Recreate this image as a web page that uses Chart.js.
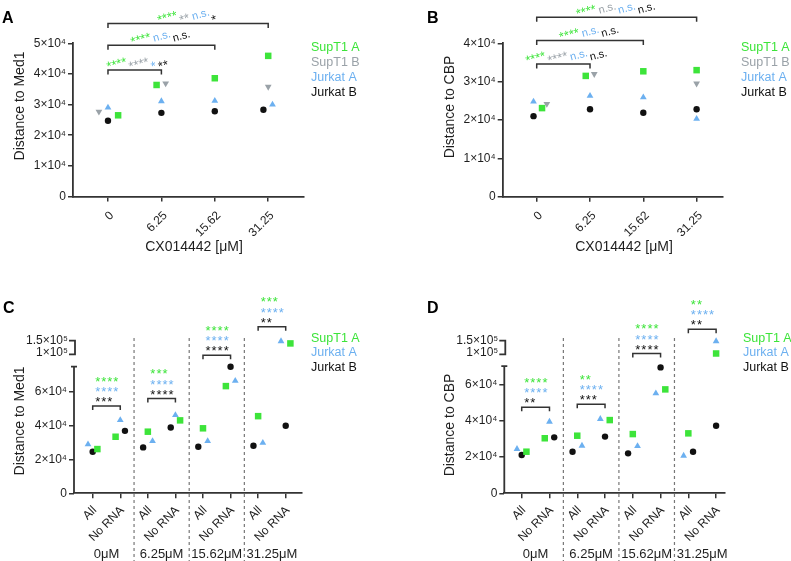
<!DOCTYPE html>
<html>
<head>
<meta charset="utf-8">
<script src="https://cdn.jsdelivr.net/npm/chart.js@4.4.1/dist/chart.umd.min.js"></script>
<style>
  body { margin: 0; background: #fff; }
  #wrap { position: relative; width: 791px; height: 561px; }
  canvas { position: absolute; left: 0; top: 0; }
</style>
</head>
<body>
<div id="wrap">
  <canvas id="chartA" width="791" height="561"></canvas>
  <canvas id="chartB" width="791" height="561"></canvas>
  <canvas id="chartC" width="791" height="561"></canvas>
  <canvas id="chartD" width="791" height="561"></canvas>
</div>
<script>
// ---- data ----
const seriesNames = ['SupT1 A', 'SupT1 B', 'Jurkat A', 'Jurkat B'];
const doseLabels = ['0', '6.25', '15.62', '31.25'];
const groupLabels = ['0μM', '6.25μM', '15.62μM', '31.25μM'];
const conditionLabels = ['All', 'No RNA'];

// A: distance to Med1 by dose
const med1SupT1A = [26500, 36400, 38600, 45900];
const med1SupT1B = [27700, 36900, null, 35800];
const med1JurkatA = [29000, 31100, 31200, 30000];
const med1JurkatB = [24700, 27300, 27800, 28300];

// B: distance to CBP by dose
const cbpSupT1A = [23100, 31500, 32700, 33000];
const cbpSupT1B = [24200, 32000, null, 29500];
const cbpJurkatA = [24800, 26300, 25900, 20300];
const cbpJurkatB = [21000, 22800, 21900, 22800];

// C: distance to Med1, All / No RNA per dose
const med1RnaSupT1A = [26200, 33500, 36500, 43200, 38500, 63500, 45700, 140000];
const med1RnaJurkatA = [29000, 43400, 30900, 46300, 30900, 66600, 29900, 148000];
const med1RnaJurkatB = [24600, 37000, 27200, 39000, 27600, 75000, 28200, 40000];

// D: distance to CBP, All / No RNA per dose
const cbpRnaSupT1A = [22900, 30300, 31700, 40300, 32600, 57200, 33000, 103000];
const cbpRnaJurkatA = [24400, 39400, 26200, 40900, 26000, 55000, 20700, 148000];
const cbpRnaJurkatB = [21100, 30800, 22900, 31200, 22000, 69300, 22900, 37200];

// tick values
const yTicksA = [0, 10000, 20000, 30000, 40000, 50000];
const yTicksB = [0, 10000, 20000, 30000, 40000];
const yTicksLow = [0, 20000, 40000, 60000];
const yTicksHigh = [100000, 150000];

// significance marks: [text, series index]
const sigA = [
  [['****', 0], ['****', 1], ['*', 2], ['**', 3]],
  [['****', 0], ['n.s.', 2], ['n.s.', 3]],
  [['****', 0], ['**', 1], ['n.s.', 2], ['*', 3]],
];
const sigB = [
  [['****', 0], ['****', 1], ['n.s.', 2], ['n.s.', 3]],
  [['****', 0], ['n.s.', 2], ['n.s.', 3]],
  [['****', 0], ['n.s.', 1], ['n.s.', 2], ['n.s.', 3]],
];
// per dose group: SupT1 A, Jurkat A, Jurkat B
const sigC = [['****', '****', '***'], ['***', '****', '****'], ['****', '****', '****'], ['***', '****', '**']];
const sigD = [['****', '****', '**'], ['**', '****', '***'], ['****', '****', '****'], ['**', '****', '**']];

// ---- layout / style ----
const FONT = '"Liberation Sans", Arial, Helvetica, sans-serif';
const TEXT = '#1e1e1e';
const AXIS = '#333';
const seriesColors = ['#3de43a', '#9aa2a8', '#6cb0f0', '#111111'];
const seriesPoint = [
  { pointStyle: 'rect', pointRadius: 4.6, pointRotation: 0 },
  { pointStyle: 'triangle', pointRadius: 3.9, pointRotation: 180 },
  { pointStyle: 'triangle', pointRadius: 3.9, pointRotation: 0 },
  { pointStyle: 'circle', pointRadius: 3.2, pointRotation: 0 },
];
// horizontal scatter offsets (category units) so that markers don't overlap
const jitterA = [[0.19, -0.09, 0, 0], [-0.17, 0.08, 0, 0], [0, 0, 0, 0.08], [0, 0, 0, -0.09]];
const jitterB = [[0.1, -0.08, 0, 0], [0.19, 0.08, 0, 0], [-0.06, 0, 0, 0], [-0.06, 0, 0, 0]];
const jitterC = [[1, -1, 0, 1, 0, -1, 0, 1], [-1, 0, 1, 0, 1, 1, 1, -1], [0, 1, -1, -1, -1, 0, -1, 0]];
const jitterD = [[1, -1, 0, 1, 0, 1, 0, 0], [-1, 0, 1, -1, 1, -1, -1, 0], [0, 1, -1, 0, -1, 0, 1, 0]];
const JSTEP = 0.17;

Chart.defaults.font.family = FONT;
Chart.defaults.color = TEXT;

function sci(v) {
  if (v === 0) return '0';
  const exp = Math.floor(Math.log10(v));
  const mant = +(v / Math.pow(10, exp)).toFixed(2);
  return mant + '×10' + String(exp).split('').map(d => '⁰¹²³⁴⁵⁶⁷⁸⁹'[d]).join('');
}

function pts(values, jit, step, keep) {
  return values
    .map((v, i) => (v == null || !keep(v)) ? null : { x: i + jit[i] * step, y: v })
    .filter(Boolean);
}

function dataset(s, data, axis) {
  return Object.assign({
    label: seriesNames[s], data, yAxisID: axis,
    backgroundColor: seriesColors[s], borderWidth: 0, clip: false,
  }, seriesPoint[s]);
}

function xScale(min, max, count, labelFn, bottom, pad, shift) {
  return {
    type: 'linear', min, max,
    afterBuildTicks: s => { s.ticks = Array.from({ length: count }, (_, i) => ({ value: i })); },
    afterFit: s => { s.height = 561 - bottom; },
    ticks: {
      autoSkip: false, minRotation: 45, maxRotation: 45, padding: pad, labelOffset: shift,
      font: { size: 12 }, color: TEXT, callback: v => labelFn(v),
    },
    grid: { drawOnChartArea: false, drawTicks: true, tickLength: 5, color: AXIS, lineWidth: 1.5 },
    border: { color: AXIS, width: 1.8 },
  };
}

function yScale(min, max, ticks, left, showBorder) {
  return {
    type: 'linear', position: 'left', min, max,
    afterBuildTicks: s => { s.ticks = ticks.map(v => ({ value: v })); },
    afterFit: s => { s.width = left; },
    ticks: { padding: 2, font: { size: 12 }, color: TEXT, callback: v => sci(v) },
    grid: { drawOnChartArea: false, drawTicks: true, tickLength: 5, color: AXIS, lineWidth: 1.5 },
    border: { display: showBorder, color: AXIS, width: 1.8 },
  };
}

function text(ctx, t, x, y, font, color, align, base, rot) {
  ctx.save();
  ctx.font = font; ctx.fillStyle = color;
  ctx.textAlign = align || 'left'; ctx.textBaseline = base || 'alphabetic';
  ctx.translate(x, y);
  if (rot) ctx.rotate(rot);
  ctx.fillText(t, 0, 0);
  ctx.restore();
}

function bracket(ctx, x0, x1, y, drop) {
  ctx.beginPath();
  ctx.moveTo(x0, y + drop); ctx.lineTo(x0, y); ctx.lineTo(x1, y); ctx.lineTo(x1, y + drop);
  ctx.stroke();
}

function decor(p) {
  return {
    id: 'decor',
    afterDraw(chart) {
      const { ctx, scales } = chart;
      const x = scales.x, y = scales.y;
      ctx.save();
      text(ctx, p.letter, p.letterAt[0], p.letterAt[1], 'bold 16px ' + FONT, '#000');
      text(ctx, p.yTitle, p.yTitleAt[0], p.yTitleAt[1], '14px ' + FONT, TEXT, 'center', 'middle', -Math.PI / 2);
      if (p.xTitle) text(ctx, p.xTitle, p.xTitleAt[0], p.xTitleAt[1], '14px ' + FONT, TEXT, 'center', 'middle');
      p.legend.forEach((s, i) => text(ctx, seriesNames[s], p.legendAt[0], p.legendAt[1] + i * p.legendStep, '12.5px ' + FONT, seriesColors[s], 'left', 'middle'));

      ctx.strokeStyle = AXIS; ctx.lineWidth = 1.5;
      if (p.sig) {
        // dose comparisons against 0, labels tilted
        const ang = -15 * Math.PI / 180, gap = 2.5;
        const fontFor = t => (t.indexOf('*') >= 0 ? '13px ' : '11px ') + FONT;
        p.sig.forEach((marks, k) => {
          const x0 = x.getPixelForValue(0), x1 = x.getPixelForValue(k + 1);
          const yy = y.getPixelForValue(p.levels[k]);
          bracket(ctx, x0, x1, yy, 4.5);
          const w = marks.map(([t]) => { ctx.font = fontFor(t); return ctx.measureText(t).width * Math.cos(ang); });
          const total = w.reduce((a, c) => a + c, 0) + gap * (marks.length - 1);
          let cx = (x0 + x1) / 2 - total / 2 + (k === 0 ? 4 : 0);
          marks.forEach(([t, s], i) => {
            text(ctx, t, cx, yy + (t.indexOf('*') >= 0 ? 1 : -3.5), fontFor(t), seriesColors[s], 'left', 'alphabetic', ang);
            cx += w[i] + gap;
          });
        });
      }
      if (p.groupSig) {
        const yH = scales.yHigh, ax = chart.chartArea.left;
        // broken y axis: lower and upper segments
        ctx.lineWidth = 1.8;
        ctx.beginPath();
        ctx.moveTo(ax, y.getPixelForValue(0)); ctx.lineTo(ax, y.getPixelForValue(p.lowTop));
        ctx.moveTo(ax - 3, y.getPixelForValue(p.lowTop)); ctx.lineTo(ax + 3, y.getPixelForValue(p.lowTop));
        const h0 = yH.getPixelForValue(yTicksHigh[0]), h1 = yH.getPixelForValue(yTicksHigh[1]);
        ctx.moveTo(ax - 5, h1); ctx.lineTo(ax + 1, h1); ctx.lineTo(ax + 1, h0); ctx.lineTo(ax - 5, h0);
        ctx.stroke();
        text(ctx, sci(yTicksHigh[1]), ax - 6, h1, '12px ' + FONT, TEXT, 'right', 'middle');
        text(ctx, sci(yTicksHigh[0]), ax - 6, h0 - 1.5, '12px ' + FONT, TEXT, 'right', 'middle');

        // dashed separators between dose groups
        ctx.save();
        ctx.strokeStyle = '#777'; ctx.lineWidth = 1.2; ctx.setLineDash([3, 3]);
        for (let g = 0; g < 3; g++) {
          const sx = x.getPixelForValue(2 * g + 1.5);
          ctx.beginPath(); ctx.moveTo(sx, 338); ctx.lineTo(sx, 561); ctx.stroke();
        }
        ctx.restore();

        groupLabels.forEach((t, g) => text(ctx, t, x.getPixelForValue(2 * g + 0.5), 554, '13px ' + FONT, TEXT, 'center', 'middle'));

        ctx.lineWidth = 1.5; ctx.strokeStyle = AXIS;
        p.groupSig.forEach((rows, g) => {
          const x0 = x.getPixelForValue(2 * g), x1 = x.getPixelForValue(2 * g + 1);
          const yy = y.getPixelForValue(p.levels[g]);
          bracket(ctx, x0, x1, yy, 4);
          const offs = [-28, -17.5, -7.5], cols = [0, 2, 3];
          rows.forEach((t, r) => {
            ctx.save();
            ctx.letterSpacing = '1px';
            text(ctx, t, x0 + 2.5, yy + offs[r] + 7.6, '13px ' + FONT, seriesColors[cols[r]]);
            ctx.restore();
          });
        });
      }
      ctx.restore();
    }
  };
}

const common = {
  responsive: false, animation: false, events: [],
  plugins: { legend: { display: false }, tooltip: { enabled: false } },
};

// ---- panel A ----
const seriesA = [med1SupT1A, med1SupT1B, med1JurkatA, med1JurkatB];
new Chart(document.getElementById('chartA'), {
  type: 'scatter',
  data: { datasets: seriesA.map((v, s) => dataset(s, pts(v, jitterA[s], 1, () => true), 'y')) },
  options: Object.assign({}, common, {
    layout: { padding: { left: 0, top: 43.3, right: 791 - 303.3, bottom: 0 } },
    scales: {
      x: xScale(-0.655, 3.657, 4, v => doseLabels[v], 196.5, 7, 4),
      y: yScale(0, 50000, yTicksA, 73, true),
    },
  }),
  plugins: [decor({
    letter: 'A', letterAt: [2, 23], yTitle: 'Distance to Med1', yTitleAt: [20, 106],
    xTitle: 'CX014442 [μM]', xTitleAt: [194, 247],
    legend: [0, 1, 2, 3], legendAt: [311, 48], legendStep: 15,
    sig: sigA, levels: [41300, 49400, 56500],
  })],
});

// ---- panel B ----
const seriesB = [cbpSupT1A, cbpSupT1B, cbpJurkatA, cbpJurkatB];
new Chart(document.getElementById('chartB'), {
  type: 'scatter',
  data: { datasets: seriesB.map((v, s) => dataset(s, pts(v, jitterB[s], 1, () => true), 'y')) },
  options: Object.assign({}, common, {
    layout: { padding: { left: 0, top: 43.3, right: 791 - 723, bottom: 0 } },
    scales: {
      x: xScale(-0.638, 3.495, 4, v => doseLabels[v], 196.7, 7, 4),
      y: yScale(0, 40000, yTicksB, 502.7, true),
    },
  }),
  plugins: [decor({
    letter: 'B', letterAt: [427, 23], yTitle: 'Distance to CBP', yTitleAt: [450, 107],
    xTitle: 'CX014442 [μM]', xTitleAt: [624, 247],
    legend: [0, 1, 2, 3], legendAt: [741, 48], legendStep: 15,
    sig: sigB, levels: [34600, 40700, 46800],
  })],
});

// ---- panels C and D (broken y axis) ----
function brokenPanel(id, series, jitter, lowTop, lowMax, xr, left, cfg) {
  const keepLow = v => v <= lowTop, keepHigh = v => v > lowTop;
  const idx = [0, 2, 3];
  const ds = [];
  series.forEach((v, k) => {
    ds.push(dataset(idx[k], pts(v, jitter[k], JSTEP, keepLow), 'y'));
    ds.push(dataset(idx[k], pts(v, jitter[k], JSTEP, keepHigh), 'yHigh'));
  });
  new Chart(document.getElementById(id), {
    type: 'scatter',
    data: { datasets: ds },
    options: Object.assign({}, common, {
      layout: { padding: { left: 0, top: 340.7, right: 791 - xr[2], bottom: 0 } },
      scales: {
        x: xScale(xr[0], xr[1], 8, v => conditionLabels[v % 2], 493.3, 5, 2),
        y: yScale(0, lowMax, yTicksLow, left, false),
        yHigh: { type: 'linear', position: 'left', display: false, min: -411000, max: 150000 },
      },
    }),
    plugins: [decor(Object.assign({ lowTop, legend: [0, 2, 3], legendStep: 14.5 }, cfg))],
  });
}

brokenPanel('chartC', [med1RnaSupT1A, med1RnaJurkatA, med1RnaJurkatB], jitterC, 75000, 90400,
  [-0.678, 7.58, 301.7], 74,
  { letter: 'C', letterAt: [3, 313], yTitle: 'Distance to Med1', yTitleAt: [20, 421],
    legendAt: [311, 338.5], groupSig: sigC, levels: [51700, 56200, 81800, 98600] });

brokenPanel('chartD', [cbpRnaSupT1A, cbpRnaJurkatA, cbpRnaJurkatB], jitterD, 70000, 84000,
  [-0.627, 7.32, 725], 504.3,
  { letter: 'D', letterAt: [427, 313], yTitle: 'Distance to CBP', yTitleAt: [450, 425],
    legendAt: [743, 338.5], groupSig: sigD, levels: [47300, 49000, 77000, 90300] });
</script>
</body>
</html>
